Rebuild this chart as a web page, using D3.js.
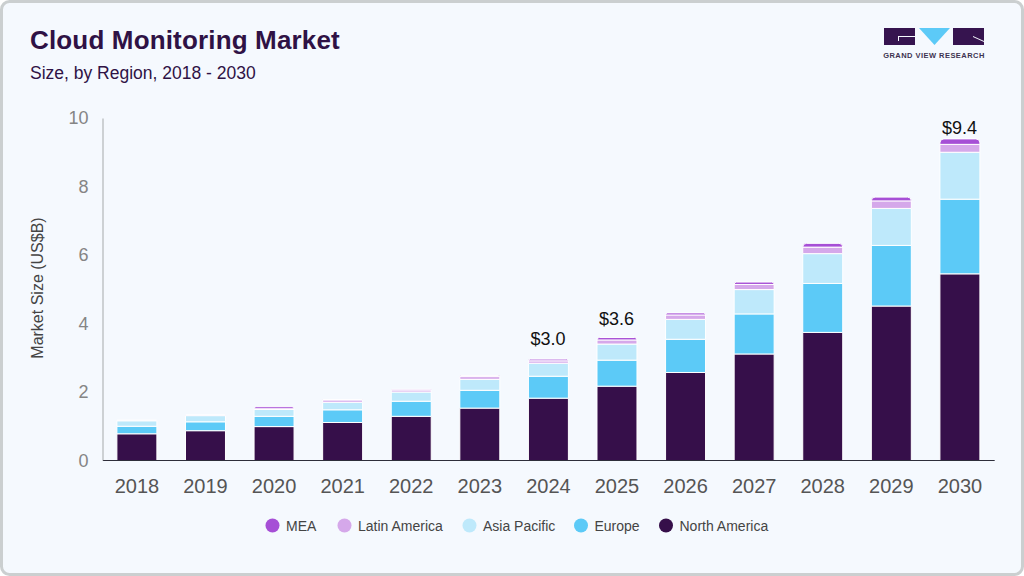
<!DOCTYPE html>
<html>
<head>
<meta charset="utf-8">
<style>
body {
  margin: 0;
  background: #fff;
  font-family: "Liberation Sans", Arial, Helvetica, sans-serif;
}
</style>
<script src="https://d3js.org/d3.v7.min.js"></script>
</head>
<body>
<div id="my_dataviz"></div>

<script>
// values, in US$B per year
var years = [2018, 2019, 2020, 2021, 2022, 2023, 2024, 2025, 2026, 2027, 2028, 2029, 2030];
var northAmerica = [0.78, 0.87, 0.99, 1.11, 1.29, 1.53, 1.82, 2.17, 2.57, 3.11, 3.74, 4.51, 5.45];
var europe = [0.22, 0.26, 0.30, 0.37, 0.44, 0.52, 0.64, 0.76, 0.97, 1.17, 1.43, 1.77, 2.18];
var asiaPacific = [0.16, 0.18, 0.20, 0.22, 0.27, 0.32, 0.38, 0.47, 0.58, 0.71, 0.87, 1.08, 1.37];
var latinAmerica = [0.01, 0.01, 0.02, 0.07, 0.06, 0.08, 0.07, 0.12, 0.13, 0.15, 0.19, 0.22, 0.23];
var mea = [0.01, 0.01, 0.06, 0.01, 0.02, 0.03, 0.05, 0.07, 0.06, 0.07, 0.11, 0.11, 0.16];

var yTicks = [0, 2, 4, 6, 8, 10];
var labelYears = [2024, 2025, 2030];
var labelTexts = ["$3.0", "$3.6", "$9.4"];

var seriesNames = ["North America", "Europe", "Asia Pacific", "Latin America", "MEA"];
var seriesValues = [northAmerica, europe, asiaPacific, latinAmerica, mea];
var seriesColors = ["#360f4a", "#5ccaf7", "#bee9fb", "#d5a8ea", "#a64fd6"];

var width = 1024, height = 576;

var svg = d3.select("#my_dataviz")
  .append("svg")
    .attr("width", width)
    .attr("height", height)
    .style("display", "block");

// card and frame
svg.append("rect")
  .attr("x", 1.5).attr("y", 1.5)
  .attr("width", width - 3).attr("height", height - 3)
  .attr("rx", 8)
  .attr("fill", "#f5f9fe")
  .attr("stroke", "#cbcfd0")
  .attr("stroke-width", 3);

// title
svg.append("text")
  .attr("x", 30).attr("y", 49)
  .attr("fill", "#2f1245")
  .style("font-size", "26px")
  .style("font-weight", "700")
  .style("letter-spacing", "0.16px")
  .text("Cloud Monitoring Market");

svg.append("text")
  .attr("x", 30).attr("y", 79)
  .attr("fill", "#2f1245")
  .style("font-size", "17.5px")
  .text("Size, by Region, 2018 - 2030");

// logo
var logo = svg.append("g");
logo.append("rect").attr("x", 884).attr("y", 28).attr("width", 31).attr("height", 17).attr("fill", "#36144f");
logo.append("path").attr("d", "M898 36H915V37H899V41H898Z").attr("fill", "#f5f9fe");
logo.append("path").attr("d", "M919 28H950L934.5 45Z").attr("fill", "#5ccaf7");
logo.append("rect").attr("x", 953).attr("y", 28).attr("width", 31).attr("height", 17).attr("fill", "#36144f");
logo.append("path").attr("d", "M973 36L984 41V42L973 37Z").attr("fill", "#f5f9fe");
logo.append("text")
  .attr("x", 934).attr("y", 58)
  .attr("text-anchor", "middle")
  .attr("fill", "#3d3350")
  .style("font-size", "7.5px")
  .style("font-weight", "700")
  .style("letter-spacing", "0.46px")
  .text("GRAND VIEW RESEARCH");

// scales
var x = d3.scaleBand()
  .domain(years)
  .range([102.6, 994.2])
  .paddingInner(0.417)
  .paddingOuter(0.2085);

var y = d3.scaleLinear()
  .domain([0, 10])
  .range([460.5, 118]);

// stack
var rows = years.map(function(year, i) {
  var row = {year: year};
  seriesNames.forEach(function(name, s) { row[name] = seriesValues[s][i]; });
  return row;
});
var stacked = d3.stack().keys(seriesNames)(rows);

// the top segment of a column gets rounded corners
function roundedTop(x0, y0, w, h) {
  var r = Math.min(4, h);
  return "M" + x0 + "," + (y0 + h) +
    "V" + (y0 + r) +
    "Q" + x0 + "," + y0 + " " + (x0 + r) + "," + y0 +
    "H" + (x0 + w - r) +
    "Q" + (x0 + w) + "," + y0 + " " + (x0 + w) + "," + (y0 + r) +
    "V" + (y0 + h) + "Z";
}

svg.append("g")
  .selectAll("g")
  .data(stacked)
  .enter()
  .append("g")
    .attr("fill", function(d, i) { return seriesColors[i]; })
  .selectAll("path")
  .data(function(d) { return d; })
  .enter()
  .append("path")
    .attr("stroke", "#ffffff")
    .attr("stroke-width", 1)
    .attr("d", function(d) {
      var top = y(d[1]), h = y(d[0]) - y(d[1]);
      if (this.parentNode.__data__.key === "MEA") {
        return roundedTop(x(d.data.year), top, x.bandwidth(), h);
      }
      return "M" + x(d.data.year) + "," + top + "h" + x.bandwidth() + "v" + h + "h" + (-x.bandwidth()) + "Z";
    });

// axes
var yAxis = svg.append("g")
  .attr("transform", "translate(102.5,0)")
  .call(d3.axisLeft(y).tickValues(yTicks).tickSize(0).tickPadding(14));
yAxis.select(".domain").attr("stroke", "#cdd1d4").attr("stroke-width", 2);
yAxis.selectAll("text")
  .attr("fill", "#858585")
  .style("font-size", "18px")
  .style("font-family", "'Liberation Sans', Arial, sans-serif");

var xAxis = svg.append("g")
  .attr("transform", "translate(0,460)")
  .call(d3.axisBottom(x).tickSize(0).tickPadding(19));
xAxis.select(".domain").attr("stroke", "#2e2e3a").attr("stroke-width", 1);
xAxis.selectAll("text")
  .attr("fill", "#555555")
  .style("font-size", "20px")
  .style("font-family", "'Liberation Sans', Arial, sans-serif");

svg.append("text")
  .attr("transform", "translate(43,288) rotate(-90)")
  .attr("text-anchor", "middle")
  .attr("fill", "#444444")
  .style("font-size", "16px")
  .text("Market Size (US$B)");

// value labels, each sits its own distance above the column
var labelGap = {2024: 14, 2025: 13, 2030: 5};
labelYears.forEach(function(year, i) {
  var idx = years.indexOf(year);
  var total = d3.sum(seriesValues, function(v) { return v[idx]; });
  svg.append("text")
    .attr("x", x(year) + x.bandwidth() / 2 - 0.5)
    .attr("y", y(total) - labelGap[year])
    .attr("text-anchor", "middle")
    .attr("fill", "#111111")
    .style("font-size", "18px")
    .text(labelTexts[i]);
});

// legend, drawn in reverse stack order
var legendX = [272.5, 344.5, 469.5, 581, 666];
var legend = svg.append("g")
  .selectAll("g")
  .data(seriesNames.slice().reverse())
  .enter()
  .append("g")
    .attr("transform", function(d, i) { return "translate(" + legendX[i] + ",525.5)"; });

legend.append("circle")
  .attr("r", 7)
  .attr("fill", function(d) { return seriesColors[seriesNames.indexOf(d)]; });

legend.append("text")
  .attr("x", 13.5)
  .attr("y", 5)
  .attr("fill", "#444444")
  .style("font-size", "14px")
  .text(function(d) { return d; });
</script>
</body>
</html>
